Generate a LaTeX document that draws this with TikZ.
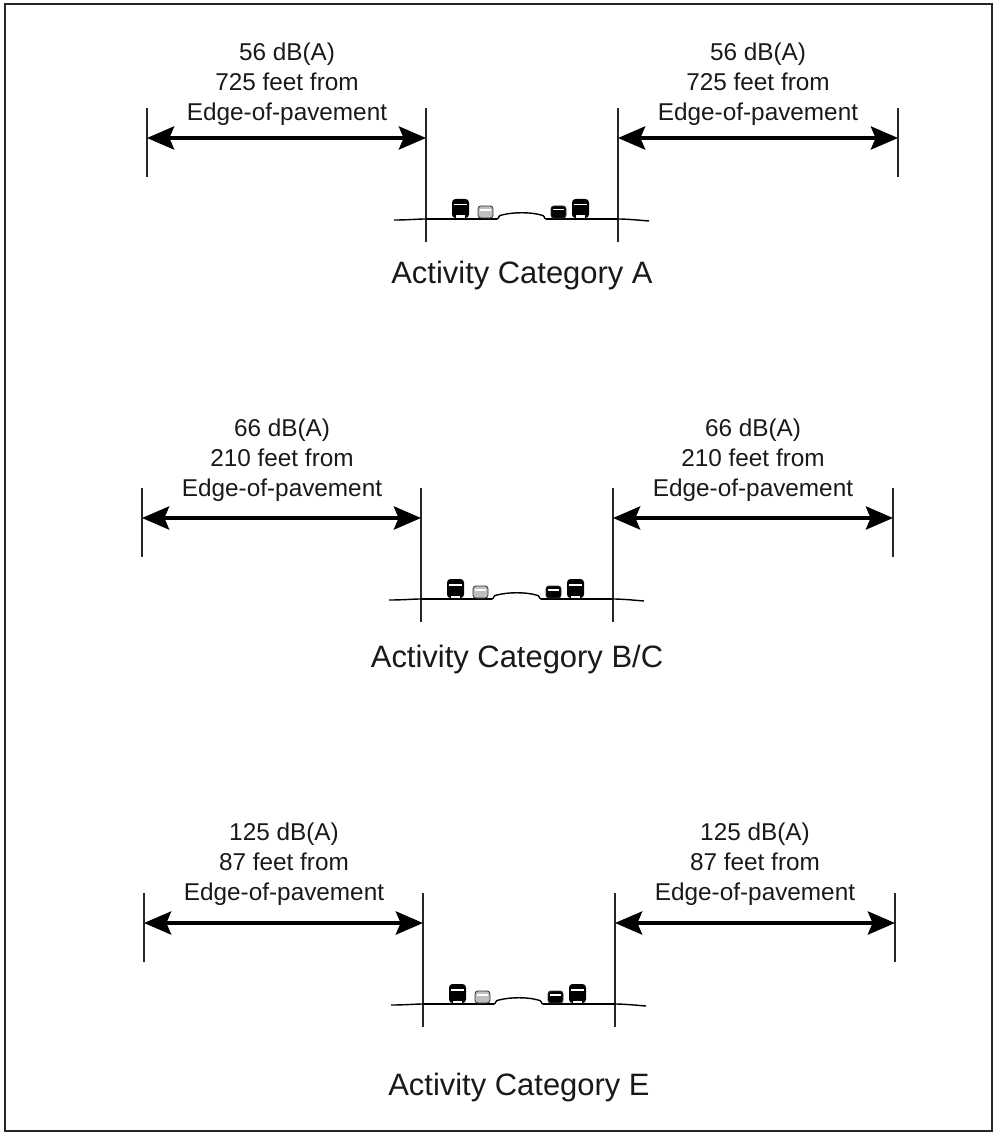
\documentclass[tikz,border=0pt]{standalone}
\usepackage{fontspec}
\setmainfont{Liberation Sans}
\usetikzlibrary{arrows.meta}

\begin{document}
\begin{tikzpicture}[
    x=0.025cm, y=-0.025cm,
    frame/.style={draw=black!85, line width=2pt},
    tick/.style={draw=black!85, line width=1.4pt},
    dimline/.style={{Stealth[length=0.68cm, width=0.58cm, inset=0.12cm]}-{Stealth[length=0.68cm, width=0.58cm, inset=0.12cm]}, line width=2.3pt},
    ground/.style={line width=1pt},
    pave/.style={line width=1.7pt},
    busbody/.style={fill=black, rounded corners=2.5pt},
    carbody/.style={draw=black!80, line width=0.6pt, rounded corners=2pt},
    dbtext/.style={font=\fontsize{17.3}{21.3}\selectfont, align=center, text=black!90},
    cattext/.style={font=\fontsize{22}{26}\selectfont, text=black!90}
  ]
    \useasboundingbox (0,0) rectangle (995,1135);
    \draw[frame] (5,4) rectangle (992,1131);

    % one panel per activity category
    \foreach \X/\Y/\T/\L/\db/\ft/\cat [count=\i] in
      {147/138/-54/138/56/725/A, 142/518/-58/141/66/210/{B/C}, 144/923/-59/164/125/87/E} {
      \begin{scope}[shift={(\X,\Y)}]
        % tick marks and dimension arrows
        \coordinate (ol\i) at (0,0);
        \coordinate (il\i) at (279,0);
        \coordinate (ir\i) at (471,0);
        \coordinate (or\i) at (751,0);
        \draw[tick] (0,-30) -- (0,39);
        \draw[tick] (279,-30) -- (279,104);
        \draw[tick] (471,-30) -- (471,104);
        \draw[tick] (751,-30) -- (751,39);
        \draw[dimline] (ol\i) -- (il\i);
        \draw[dimline] (ir\i) -- (or\i);

        % labels
        \node[dbtext] (lt\i) at (140,\T) {\db{} dB(A)\\\ft{} feet from\\Edge-of-pavement};
        \node[dbtext] (rt\i) at (611,\T) {\db{} dB(A)\\\ft{} feet from\\Edge-of-pavement};
        \node[cattext] (cat\i) at (375,\L) {Activity Category \cat};

        % road cross-section
        \draw[ground] (247,82) .. controls (262,82) and (270,81) .. (279,81);
        \draw[pave] (279,81) -- (350,81);
        \draw[ground] (350,81) .. controls (352,81) and (351,77) .. (355,77)
          .. controls (366,74) and (384,74) .. (394,77)
          .. controls (398,77) and (397,81) .. (399,81);
        \draw[pave] (399,81) -- (471,81);
        \draw[ground] (471,81) .. controls (480,81) and (490,82) .. (502,83);

        % vehicles
        \foreach \v in {305,425} {
          \fill[busbody] (\v,61) rectangle (\v+17,80);
          \fill[white] (\v+2,66) rectangle (\v+15,67.5);
          \fill[white] (\v+4,77.5) rectangle (\v+13,80);
        }
        \filldraw[carbody, fill=black!25] (331,68) rectangle (346,80);
        \fill[white] (333,71) rectangle (344,73);
        \filldraw[carbody, fill=black] (404,68) rectangle (419,80);
        \fill[white] (406,71) rectangle (417,72.5);
      \end{scope}
    }
  \end{tikzpicture}
\end{document}
